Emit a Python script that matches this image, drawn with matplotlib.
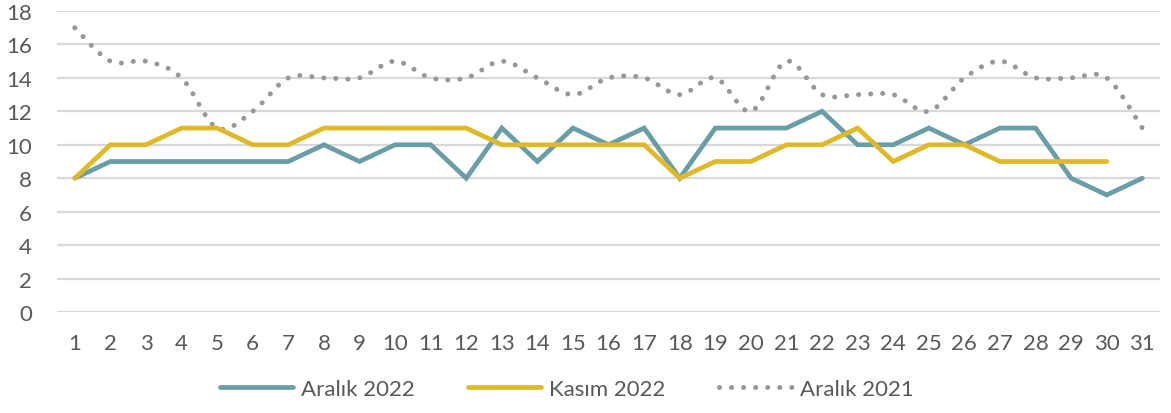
import numpy as np
import matplotlib.pyplot as plt
from matplotlib.lines import Line2D

#- Data:
days = np.arange(1, 32)
aralik_2022 = [8, 9, 9, 9, 9, 9, 9, 10, 9, 10, 10, 8, 11, 9, 11, 10, 11, 8,
               11, 11, 11, 12, 10, 10, 11, 10, 11, 11, 8, 7, 8]
kasim_2022 = [8, 10, 10, 11, 11, 10, 10, 11, 11, 11, 11, 11, 10, 10, 10, 10, 10, 8,
              9, 9, 10, 10, 11, 9, 10, 10, 9, 9, 9, 9]
aralik_2021 = [17, 15, 15, 14, 11, 12, 14, 14, 14, 15, 14, 14, 15, 14, 13, 14, 14, 13,
               14, 12, 15, 13, 13, 13, 12, 14, 15, 14, 14, 14, 11]

series_names = ['Aralık 2022', 'Kasım 2022', 'Aralık 2021']
teal = '#6A9EA7'
gold = '#E0B928'
grey = '#989898'
text_col = '#595959'


def smooth(x, y, n=20):
    #- Catmull-Rom style smoothing (like Excel's smoothed line)
    x = np.asarray(x, float)
    y = np.asarray(y, float)
    px = np.concatenate([[x[0]], x, [x[-1]]])
    py = np.concatenate([[y[0]], y, [y[-1]]])
    xs, ys = [], []
    t = np.linspace(0, 1, n, endpoint=False)
    for i in range(1, len(px) - 2):
        p0, p1, p2, p3 = [np.array([px[j], py[j]]) for j in (i - 1, i, i + 1, i + 2)]
        c1 = p1 + (p2 - p0) / 6
        c2 = p2 - (p3 - p1) / 6
        b = ((1 - t) ** 3)[:, None] * p1 + (3 * (1 - t) ** 2 * t)[:, None] * c1 \
            + (3 * (1 - t) * t ** 2)[:, None] * c2 + (t ** 3)[:, None] * p2
        xs.extend(b[:, 0])
        ys.extend(b[:, 1])
    xs.append(x[-1])
    ys.append(y[-1])
    return np.array(xs), np.array(ys)


plt.rcParams['font.family'] = ['Lato', 'DejaVu Sans']
dots = (0, (0.01, 2.4))

fig = plt.figure(figsize=(11.71, 4.14), dpi=100)
ax = fig.add_axes([0.0487, 0.244, 0.942, 0.727])

sx, sy = smooth(days, aralik_2021)
ax.plot(sx, sy, color=grey, lw=3.6, linestyle=dots,
        dash_capstyle='round', zorder=3)
ax.plot(days, aralik_2022, color=teal, lw=3.4, solid_capstyle='round',
        solid_joinstyle='miter', zorder=4)
ax.plot(days[:len(kasim_2022)], kasim_2022, color=gold, lw=3.4,
        solid_capstyle='round', solid_joinstyle='miter', zorder=5)

ax.set_xlim(0.5, 31.5)
ax.set_ylim(0, 18)
ax.set_yticks(np.arange(0, 19, 2))
ax.set_xticks(days)
ax.grid(axis='y', color='#D9D9D9', lw=1.6)
ax.set_axisbelow(True)
for s in ax.spines.values():
    s.set_visible(False)
ax.tick_params(axis='both', length=0, labelsize=16, labelcolor=text_col)
ax.tick_params(axis='x', pad=15)
ax.tick_params(axis='y', pad=18)

handles = [
    Line2D([], [], color=teal, lw=3.4, solid_capstyle='round'),
    Line2D([], [], color=gold, lw=3.4, solid_capstyle='round'),
    Line2D([], [], color=grey, lw=3.6, linestyle=dots, dash_capstyle='round'),
]
fig.legend(handles, series_names, loc='center', bbox_to_anchor=(0.484, 0.058),
           ncol=3, frameon=False, fontsize=16, labelcolor=text_col,
           handlelength=3.3, handletextpad=0.35, columnspacing=2.4)

fig.savefig('out.png', dpi=100)
